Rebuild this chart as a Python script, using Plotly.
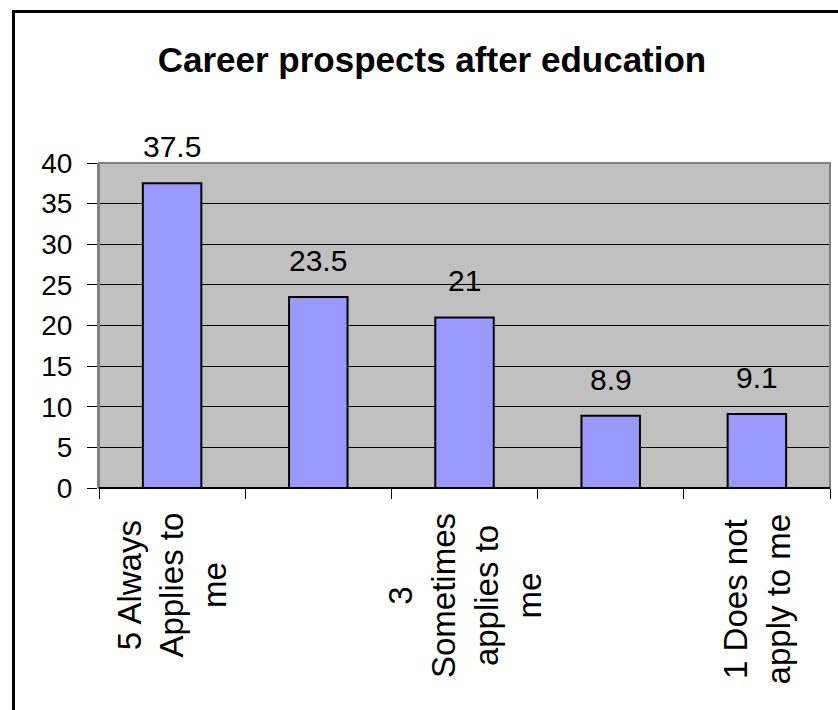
import plotly.graph_objects as go

# Likert scores (5 = always applies ... 1 = does not apply) and percentages
scores = [5, 4, 3, 2, 1]
percentages = [37.5, 23.5, 21, 8.9, 9.1]
# Category captions shown under the axis (only every other score is labelled)
score_labels = {
    5: "5 Always<br>Applies to<br>me",
    3: "3<br>Sometimes<br>applies to<br>me",
    1: "1 Does not<br>apply to me",
}
y_ticks = [0, 5, 10, 15, 20, 25, 30, 35, 40]
title_text = "Career prospects after education"

W, H = 838, 710
ML, MR, MT, MB = 99, 8, 163, 222
plot_h = H - MT - MB
plot_w = W - ML - MR

FONT = "Liberation Sans, Arial, sans-serif"

fig = go.Figure()
fig.add_trace(go.Bar(
    x=scores,
    y=percentages,
    width=0.4,
    marker=dict(color="#9999FF", line=dict(color="black", width=2)),
    hoverinfo="x+y",
    showlegend=False,
))

annotations = []
# value labels above each bar
for s, v in zip(scores, percentages):
    annotations.append(dict(
        x=s, y=v, xref="x", yref="y",
        text=f"{v:g}", showarrow=False,
        yanchor="bottom", xanchor="center", yshift=18,
        font=dict(family=FONT, size=30, color="black"),
    ))
# rotated category captions
for s, lab in score_labels.items():
    annotations.append(dict(
        x=s, y=0, xref="x", yref="paper",
        text=lab, showarrow=False, textangle=-90,
        yanchor="top", xanchor="center", yshift=-23, align="center",
        font=dict(family=FONT, size=33, color="black"),
    ))

def px_x(px):
    return (px - ML) / plot_w

def px_y(py):
    return (H - MB - py) / plot_h

shapes = [
    # plot-area frame
    dict(type="rect", xref="paper", yref="paper", x0=0, x1=1, y0=0, y1=1,
         line=dict(color="#808080", width=2), layer="above"),
    # outer chart frame
    dict(type="rect", xref="paper", yref="paper",
         x0=px_x(13.5), x1=px_x(W + 20), y0=px_y(H + 20), y1=px_y(11.5),
         line=dict(color="black", width=3), layer="above"),
    # category axis line
    dict(type="line", xref="paper", yref="paper", x0=0, x1=1, y0=0, y1=0,
         line=dict(color="black", width=2), layer="above"),
]

fig.update_layout(
    width=W, height=H,
    margin=dict(l=ML, r=MR, t=MT, b=MB, pad=0),
    paper_bgcolor="white",
    plot_bgcolor="#C0C0C0",
    font=dict(family=FONT, color="black"),
    title=dict(
        text=title_text, x=432 / W, xanchor="center", xref="container",
        y=1 - 60 / H, yanchor="middle", yref="container",
        font=dict(family=FONT, size=35, color="black", weight=700),
    ),
    xaxis=dict(
        range=[5.5, 0.5],
        tickmode="array", tickvals=[5.5, 4.5, 3.5, 2.5, 1.5, 0.5],
        showticklabels=False,
        ticks="outside", ticklen=10, tickwidth=1, tickcolor="black",
        showgrid=False, zeroline=False, showline=False,
        fixedrange=True,
    ),
    yaxis=dict(
        range=[0, 40], tickmode="array", tickvals=y_ticks,
        ticks="outside", ticklen=10, tickwidth=1, tickcolor="black",
        ticklabelstandoff=9,
        tickfont=dict(family=FONT, size=28, color="black"),
        showgrid=True, gridcolor="black", gridwidth=1,
        zeroline=False, showline=True, linecolor="#808080", linewidth=2,
        fixedrange=True,
    ),
    annotations=annotations,
    shapes=shapes,
    bargap=0.6,
)

fig.write_html("out.html")
